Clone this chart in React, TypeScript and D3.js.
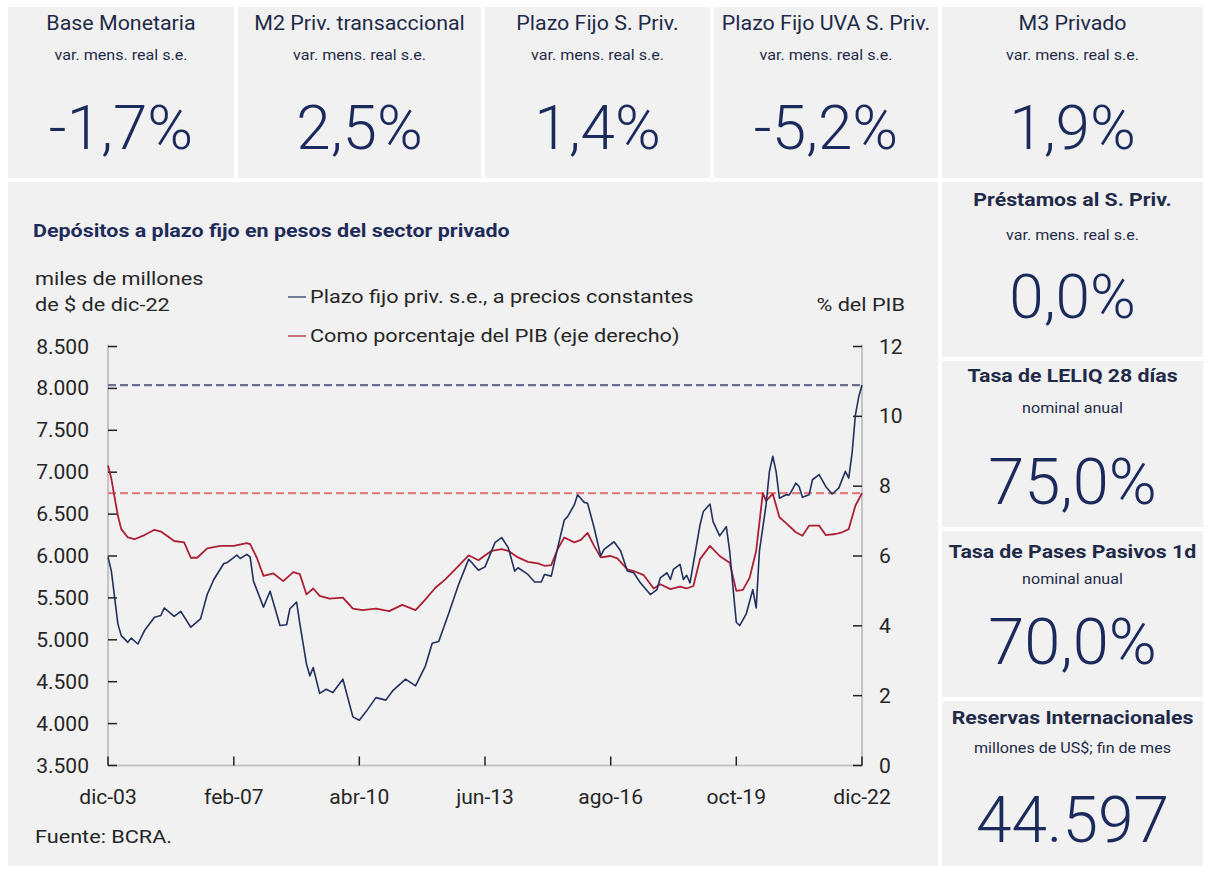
import React from 'react';
import * as d3 from 'd3';

const W = 1205;
const H = 871;

// ---- top indicator cards ----
const topTitles = ['Base Monetaria', 'M2 Priv. transaccional', 'Plazo Fijo S. Priv.', 'Plazo Fijo UVA S. Priv.', 'M3 Privado'];
const topSubtitles = ['var. mens. real s.e.', 'var. mens. real s.e.', 'var. mens. real s.e.', 'var. mens. real s.e.', 'var. mens. real s.e.'];
const topValues = ['-1,7%', '2,5%', '1,4%', '-5,2%', '1,9%'];

// ---- side indicator cards ----
const sideTitles = ['Préstamos al S. Priv.', 'Tasa de LELIQ 28 días', 'Tasa de Pases Pasivos 1d', 'Reservas Internacionales'];
const sideSubtitles = ['var. mens. real s.e.', 'nominal anual', 'nominal anual', 'millones de US$; fin de mes'];
const sideValues = ['0,0%', '75,0%', '70,0%', '44.597'];

// ---- chart data (months since dic-03) ----
const depMonths = [0, 1, 3, 4, 6, 7, 9, 11, 14, 16, 17, 20, 22, 25, 28, 30, 32, 35, 36, 39, 40, 42, 43, 44, 47, 49, 52, 54, 55, 57, 58, 60, 61, 62, 64, 66, 68, 71, 74, 76, 78, 81, 84, 86, 90, 93, 96, 98, 100, 103, 106, 109, 110, 112, 114, 117, 119, 121, 123, 124, 127, 129, 131, 132, 134, 136, 138, 139, 141, 142, 144, 145, 147, 149, 150, 153, 155, 157, 159, 161, 164, 166, 167, 169, 170, 171, 173, 174, 175, 176, 178, 179, 180, 182, 183, 185, 187, 188, 189, 190, 191, 193, 195, 196, 197, 199, 200, 201, 202, 203, 205, 206, 208, 209, 210, 212, 213, 215, 217, 219, 221, 223, 224, 225, 226, 227, 228];
const depValues = [5990, 5820, 5190, 5050, 4970, 5020, 4950, 5110, 5270, 5290, 5380, 5280, 5340, 5150, 5250, 5540, 5720, 5910, 5920, 6010, 5970, 6020, 5990, 5700, 5390, 5580, 5170, 5180, 5370, 5450, 5190, 4710, 4570, 4670, 4360, 4410, 4370, 4530, 4080, 4040, 4140, 4310, 4280, 4390, 4530, 4450, 4690, 4960, 4980, 5310, 5660, 5960, 5920, 5830, 5870, 6160, 6220, 6100, 5820, 5860, 5780, 5690, 5690, 5780, 5760, 6100, 6430, 6470, 6610, 6730, 6640, 6630, 6340, 6000, 6080, 6170, 6060, 5820, 5800, 5680, 5540, 5600, 5740, 5800, 5720, 5840, 5900, 5720, 5770, 5680, 6140, 6370, 6530, 6620, 6410, 6240, 6350, 6060, 5620, 5210, 5170, 5310, 5600, 5380, 6060, 6610, 7010, 7190, 7010, 6690, 6730, 6730, 6870, 6830, 6700, 6730, 6910, 6970, 6830, 6740, 6810, 7010, 6930, 7230, 7680, 7900, 8040];

const pibMonths = [0, 1, 3, 4, 6, 8, 11, 14, 16, 20, 23, 25, 27, 30, 34, 38, 42, 43, 45, 47, 50, 53, 56, 58, 60, 62, 64, 67, 71, 74, 77, 81, 85, 89, 93, 96, 99, 102, 106, 109, 112, 116, 119, 121, 124, 127, 130, 132, 134, 136, 138, 141, 143, 145, 147, 149, 152, 154, 157, 159, 162, 165, 167, 170, 173, 175, 177, 179, 182, 185, 188, 190, 192, 194, 196, 198, 199, 201, 203, 205, 208, 210, 212, 215, 217, 220, 222, 224, 226, 228];
const pibValues = [8.59, 8.21, 7.15, 6.77, 6.53, 6.48, 6.6, 6.75, 6.7, 6.43, 6.39, 5.95, 5.95, 6.22, 6.29, 6.29, 6.37, 6.34, 5.95, 5.43, 5.5, 5.28, 5.54, 5.48, 4.9, 5.07, 4.86, 4.78, 4.81, 4.49, 4.45, 4.49, 4.42, 4.6, 4.45, 4.76, 5.09, 5.33, 5.72, 6.02, 5.88, 6.15, 6.2, 6.15, 5.96, 5.83, 5.79, 5.72, 5.74, 6.2, 6.53, 6.39, 6.46, 6.66, 6.29, 5.96, 6.0, 5.93, 5.62, 5.57, 5.45, 5.07, 5.19, 5.05, 5.12, 5.07, 5.14, 5.91, 6.29, 6.0, 5.81, 5.0, 5.03, 5.38, 6.15, 7.8, 7.58, 7.78, 7.11, 6.94, 6.68, 6.58, 6.87, 6.87, 6.6, 6.63, 6.68, 6.77, 7.44, 7.8];

const xTickDates = ['2003-12', '2007-02', '2010-04', '2013-06', '2016-08', '2019-10', '2022-12'];
const xTickLabels = ['dic-03', 'feb-07', 'abr-10', 'jun-13', 'ago-16', 'oct-19', 'dic-22'];
const leftTicks = [3500, 4000, 4500, 5000, 5500, 6000, 6500, 7000, 7500, 8000, 8500];
const rightTicks = [0, 2, 4, 6, 8, 10, 12];

const chartTitle = 'Depósitos a plazo fijo en pesos del sector privado';
const leftUnit = ['miles de millones', 'de $ de dic-22'];
const rightUnit = '% del PIB';
const legendLabels = ['Plazo fijo priv. s.e., a precios constantes', 'Como porcentaje del PIB (eje derecho)'];
const source = 'Fuente: BCRA.';

const PANEL = '#f1f1f1';
const NAVY = '#1b2a5c';
const TITLE = '#1f2a48';
const CHART_TITLE = '#1f2c5a';
const BLUE = '#22305e';
const RED = '#ad1f35';
const BLUE_DASH = '#6a6e92';
const RED_DASH = '#e07f80';
const TEXT = '#262626';
const FONT = 'Roboto, "Noto Sans", sans-serif';

const parse = d3.timeParse('%Y-%m');
const monthDate = (m: number) => new Date(2003, 11 + m, 1);
const fmt = d3.format(',');
const esNum = (v: number) => fmt(v).replace(/,/g, '.');

type TProps = {
  x: number; y: number; sx?: number; anchor?: string; size: number; weight?: number; fill?: string; children: React.ReactNode;
};
const T = ({ x, y, sx = 1, anchor = 'start', size, weight = 400, fill = TEXT, children }: TProps) => (
  <text transform={`translate(${x},${y}) scale(${sx},1)`} textAnchor={anchor as any} fontSize={size} fontWeight={weight} fill={fill}>
    {children}
  </text>
);

export default function App() {
  const x0 = 108, x1 = 862, yTop = 346.5, yBot = 765.5;
  const x = d3.scaleTime().domain([monthDate(0), monthDate(228)]).range([x0, x1]);
  const yL = d3.scaleLinear().domain([3500, 8500]).range([yBot, yTop]);
  const yR = d3.scaleLinear().domain([0, 12]).range([yBot, yTop]);

  const depData = depMonths.map((m, i) => ({ d: monthDate(m), v: depValues[i] }));
  const pibData = pibMonths.map((m, i) => ({ d: monthDate(m), v: pibValues[i] }));
  const lineL = d3.line<{ d: Date; v: number }>().x(p => x(p.d)).y(p => yL(p.v));
  const lineR = d3.line<{ d: Date; v: number }>().x(p => x(p.d)).y(p => yR(p.v));

  const lastDep = depValues[depValues.length - 1];
  const lastPib = pibValues[pibValues.length - 1];

  const topX = [8, 238, 485, 714, 942];
  const topR = [234, 481, 710, 938, 1203];

  const sideY = [182, 361, 531, 701];
  const sideB = [357, 527, 697, 866];
  const sideTitleOff = [24, 21, 27, 23];
  const sideSubOff = [58, 52, 53, 52];
  const sideNumOff = [136, 143, 133, 141];
  const sideNumSize = [62, 65, 65, 64];

  const CS = 1.14; // horizontal stretch of chart texts

  return (
    <svg width={W} height={H} style={{ position: 'absolute', left: 0, top: 0, background: '#fff' }} fontFamily={FONT}>
      <rect x={0} y={0} width={W} height={H} fill="#fff" />
      {topTitles.map((t, i) => {
        const cx = (topX[i] + topR[i]) / 2;
        return (
          <g key={'top' + i}>
            <rect x={topX[i]} y={7} width={topR[i] - topX[i]} height={171} fill={PANEL} />
            <T x={cx} y={30} anchor="middle" size={20} sx={1.07} fill={TITLE}>{t}</T>
            <T x={cx} y={60} anchor="middle" size={14} sx={1.15} fill={TITLE}>{topSubtitles[i]}</T>
            <T x={cx} y={149} anchor="middle" size={62} weight={300} fill={NAVY}>{topValues[i]}</T>
          </g>
        );
      })}

      {sideTitles.map((t, i) => {
        const cx = (942 + 1203) / 2;
        return (
          <g key={'side' + i}>
            <rect x={942} y={sideY[i]} width={1203 - 942} height={sideB[i] - sideY[i]} fill={PANEL} />
            <T x={cx} y={sideY[i] + sideTitleOff[i]} anchor="middle" size={19} sx={1.12} weight={700} fill={TITLE}>{t}</T>
            <T x={cx} y={sideY[i] + sideSubOff[i]} anchor="middle" size={14} sx={1.15} fill={TITLE}>{sideSubtitles[i]}</T>
            <T x={cx} y={sideY[i] + sideNumOff[i]} anchor="middle" size={sideNumSize[i]} weight={300} fill={NAVY}>{sideValues[i]}</T>
          </g>
        );
      })}

      {/* main chart panel */}
      <rect x={8} y={182} width={930} height={684} fill={PANEL} />
      <T x={33} y={237} size={18.5} sx={1.16} weight={700} fill={CHART_TITLE}>{chartTitle}</T>
      <T x={35} y={285} size={19} sx={CS}>{leftUnit[0]}</T>
      <T x={35} y={311} size={19} sx={CS}>{leftUnit[1]}</T>
      <T x={905} y={311} anchor="end" size={19} sx={CS}>{rightUnit}</T>

      {/* legend */}
      <line x1={288} x2={306} y1={297} y2={297} stroke={BLUE} strokeWidth={2} opacity={0.6} />
      <T x={310} y={303} size={19} sx={CS}>{legendLabels[0]}</T>
      <line x1={288} x2={306} y1={336} y2={336} stroke={RED} strokeWidth={2} opacity={0.6} />
      <T x={310} y={342} size={19} sx={CS}>{legendLabels[1]}</T>

      {/* axes lines */}
      <line x1={x0} x2={x0} y1={yTop - 2} y2={yBot} stroke="#c4c4c4" strokeWidth={2} />
      <line x1={x1} x2={x1} y1={yTop - 2} y2={yBot} stroke="#c4c4c4" strokeWidth={2} />
      <line x1={x0} x2={x1} y1={yBot} y2={yBot} stroke="#c4c4c4" strokeWidth={2} />

      {leftTicks.map(t => (
        <g key={'lt' + t}>
          <line x1={x0} x2={x0 + 9} y1={yL(t)} y2={yL(t)} stroke="#222" strokeWidth={1.5} />
          <T x={89} y={yL(t) + 7} anchor="end" size={19.5} sx={1.08}>{esNum(t)}</T>
        </g>
      ))}
      {rightTicks.map(t => (
        <g key={'rt' + t}>
          <line x1={x1 - 9} x2={x1} y1={yR(t)} y2={yR(t)} stroke="#222" strokeWidth={1.5} />
          <T x={879} y={yR(t) + 7} size={19.5} sx={1.08}>{t}</T>
        </g>
      ))}
      {xTickDates.map((s, i) => {
        const xx = x(parse(s) as Date);
        return (
          <g key={'xt' + s}>
            <line x1={xx} x2={xx} y1={yBot} y2={yBot - 9} stroke="#222" strokeWidth={1.5} />
            <T x={xx} y={804} anchor="middle" size={19.5} sx={1.08}>{xTickLabels[i]}</T>
          </g>
        );
      })}

      {/* reference dashed lines at last values */}
      <line x1={x0} x2={x1} y1={yL(lastDep)} y2={yL(lastDep)} stroke={BLUE_DASH} strokeWidth={2.2} strokeDasharray="8 4" />
      <line x1={x0} x2={x1} y1={yR(lastPib)} y2={yR(lastPib)} stroke={RED_DASH} strokeWidth={2.2} strokeDasharray="8 4" />

      <path d={lineR(pibData) || ''} fill="none" stroke={RED} strokeWidth={1.8} strokeLinejoin="round" />
      <path d={lineL(depData) || ''} fill="none" stroke={BLUE} strokeWidth={1.6} strokeLinejoin="round" />

      <T x={35} y={843} size={19} sx={CS}>{source}</T>
    </svg>
  );
}
